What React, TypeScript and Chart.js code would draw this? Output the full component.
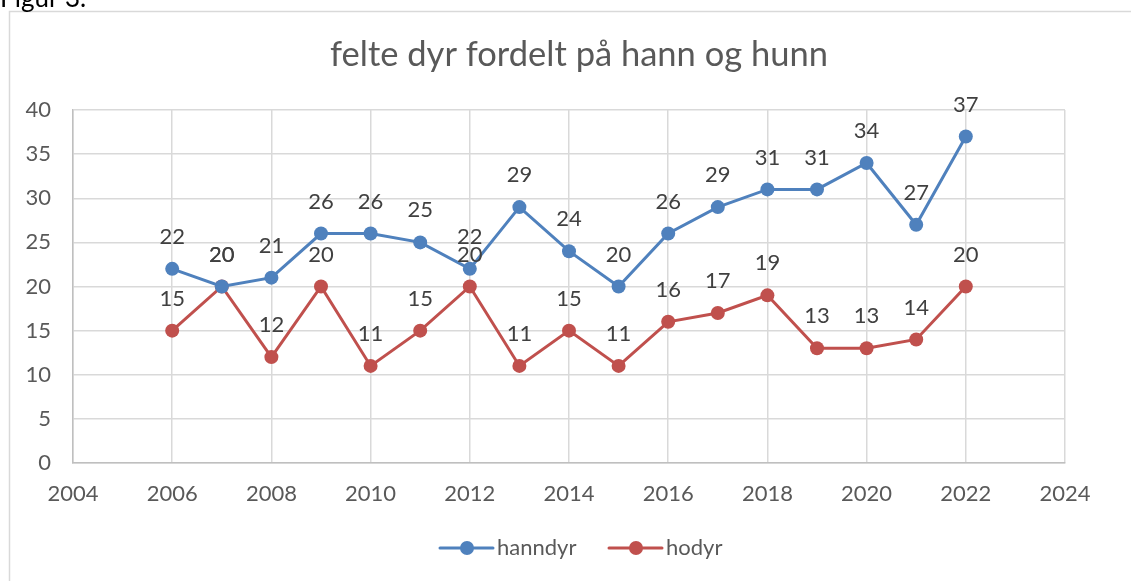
import React, { useEffect, useRef } from "react";
import { Chart, registerables } from "chart.js";

Chart.register(...registerables);

const years = [2006, 2007, 2008, 2009, 2010, 2011, 2012, 2013, 2014, 2015, 2016, 2017, 2018, 2019, 2020, 2021, 2022];
const hanndyr = [22, 20, 21, 26, 26, 25, 22, 29, 24, 20, 26, 29, 31, 31, 34, 27, 37];
const hodyr = [15, 20, 12, 20, 11, 15, 20, 11, 15, 11, 16, 17, 19, 13, 13, 14, 20];
const seriesNames = ["hanndyr", "hodyr"];
const seriesColors = ["#4F81BD", "#C0504D"];
const titleText = "felte dyr fordelt på hann og hunn";
const figText = "Figur 3.";

const FONT = "Lato";

const decorPlugin = {
  id: "decor",
  beforeDraw(chart: any) {
    const ctx = chart.ctx;
    ctx.save();
    ctx.fillStyle = "#ffffff";
    ctx.fillRect(0, 0, chart.width, chart.height);
    ctx.strokeStyle = "#d9d9d9";
    ctx.lineWidth = 1.5;
    ctx.strokeRect(9.5, 11.5, 1400, 800);
    ctx.fillStyle = "#000000";
    ctx.font = `26px ${FONT}`;
    ctx.textBaseline = "alphabetic";
    ctx.textAlign = "left";
    ctx.fillText(figText, 0, 7);
    ctx.fillStyle = "#595959";
    ctx.font = `34.5px ${FONT}`;
    ctx.textAlign = "center";
    ctx.textBaseline = "middle";
    ctx.fillText(titleText, 579, 55);
    // legend
    const items = [
      { x: 440, label: seriesNames[0], color: seriesColors[0] },
      { x: 609, label: seriesNames[1], color: seriesColors[1] },
    ];
    const ly = 548;
    items.forEach((it) => {
      ctx.strokeStyle = it.color;
      ctx.lineWidth = 3;
      ctx.lineCap = "round";
      ctx.beginPath();
      ctx.moveTo(it.x, ly);
      ctx.lineTo(it.x + 53, ly);
      ctx.stroke();
      ctx.fillStyle = it.color;
      ctx.beginPath();
      ctx.arc(it.x + 27, ly, 7, 0, Math.PI * 2);
      ctx.fill();
      ctx.fillStyle = "#595959";
      ctx.font = `22px ${FONT}`;
      ctx.textAlign = "left";
      ctx.textBaseline = "middle";
      ctx.fillText(it.label, it.x + 57, ly);
    });
    ctx.restore();
  },
  afterDatasetsDraw(chart: any) {
    const ctx = chart.ctx;
    ctx.save();
    ctx.fillStyle = "#404040";
    ctx.font = `22px ${FONT}`;
    ctx.textAlign = "center";
    ctx.textBaseline = "middle";
    chart.data.datasets.forEach((ds: any, di: number) => {
      const meta = chart.getDatasetMeta(di);
      meta.data.forEach((pt: any, i: number) => {
        ctx.fillText(String(ds.data[i].y), pt.x, pt.y - 32);
      });
    });
    ctx.restore();
  },
};

export default function App() {
  const ref = useRef<HTMLCanvasElement>(null);
  useEffect(() => {
    if (!ref.current) return;
    const series = [hanndyr, hodyr];
    const chart = new Chart(ref.current, {
      type: "scatter",
      data: {
        datasets: series.map((vals, si) => ({
          label: seriesNames[si],
          data: years.map((y, i) => ({ x: y, y: vals[i] })),
          showLine: true,
          borderColor: seriesColors[si],
          backgroundColor: seriesColors[si],
          borderWidth: 3,
          pointRadius: 7,
          pointHoverRadius: 7,
          pointBorderWidth: 0,
          tension: 0,
        })),
      },
      options: {
        responsive: false,
        animation: false,
        layout: { padding: { left: 0, right: 66, top: 110, bottom: 0 } },
        plugins: { legend: { display: false }, title: { display: false }, tooltip: { enabled: false } },
        scales: {
          x: {
            type: "linear",
            min: 2004,
            max: 2024,
            ticks: { stepSize: 2, color: "#595959", font: { family: FONT, size: 22 }, padding: 18, maxRotation: 0, callback: (v: any) => String(v) },
            grid: { color: "#d9d9d9", lineWidth: 1.5, drawTicks: false },
            border: { color: "#bfbfbf", width: 1.5 },
            afterFit: (s: any) => { s.height = 118; },
          },
          y: {
            min: 0,
            max: 40,
            ticks: { stepSize: 5, color: "#595959", font: { family: FONT, size: 22 }, padding: 22 },
            grid: { color: "#d9d9d9", lineWidth: 1.5, drawTicks: false },
            border: { color: "#bfbfbf", width: 1.5 },
            afterFit: (s: any) => { s.width = 73; },
          },
        },
      },
      plugins: [decorPlugin],
    });
    return () => chart.destroy();
  }, []);
  return (
    <div style={{ position: "absolute", left: 0, top: 0, width: 1131, height: 581 }}>
      <canvas ref={ref} width={1131} height={581} style={{ width: 1131, height: 581, display: "block" }} />
    </div>
  );
}
